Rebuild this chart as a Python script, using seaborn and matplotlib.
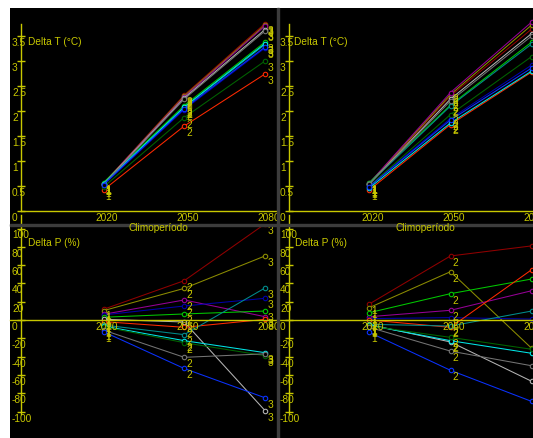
import matplotlib
matplotlib.use("Agg")
import matplotlib.pyplot as plt
from matplotlib.patches import Rectangle
import seaborn as sns
import pandas as pd

# ---------------- data ----------------
years = [2020, 2050, 2080]
period_labels = ["1", "2", "3"]
models = ["maroon", "olive", "purple", "navy", "green", "silver",
          "red", "teal", "cyan", "darkgreen", "gray", "blue"]
model_colors = ["#900000", "#8c8c00", "#960096", "#0000a8", "#00c800", "#b4b4b4",
                "#ff2a00", "#008c8c", "#00e6e6", "#006400", "#747474", "#0a32ff"]

# Delta T (deg C), left panel
t_left_maroon = [0.55, 2.32, 3.75]
t_left_olive = [0.55, 2.30, 3.72]
t_left_purple = [0.55, 2.28, 3.70]
t_left_navy = [0.52, 2.03, 3.26]
t_left_green = [0.57, 2.11, 3.38]
t_left_silver = [0.54, 2.26, 3.63]
t_left_red = [0.42, 1.70, 2.74]
t_left_teal = [0.54, 2.07, 3.33]
t_left_cyan = [0.55, 2.08, 3.35]
t_left_darkgreen = [0.48, 1.87, 3.00]
t_left_gray = [0.53, 2.24, 3.60]
t_left_blue = [0.53, 2.05, 3.28]

# Delta T (deg C), right panel
t_right_maroon = [0.55, 2.30, 3.64]
t_right_olive = [0.55, 2.33, 3.72]
t_right_purple = [0.56, 2.37, 3.78]
t_right_navy = [0.50, 1.85, 2.92]
t_right_green = [0.57, 2.12, 3.38]
t_right_silver = [0.54, 2.24, 3.55]
t_right_red = [0.42, 1.73, 2.78]
t_right_teal = [0.55, 2.10, 3.34]
t_right_cyan = [0.46, 1.76, 2.80]
t_right_darkgreen = [0.50, 1.93, 3.09]
t_right_gray = [0.54, 2.20, 3.50]
t_right_blue = [0.49, 1.82, 2.86]

# Delta P (%), left panel
p_left_maroon = [11.7, 43.0, 105.0]
p_left_olive = [10.2, 34.6, 70.0]
p_left_purple = [6.2, 21.9, 3.6]
p_left_navy = [5.5, 15.3, 23.7]
p_left_green = [3.0, 6.6, 9.8]
p_left_silver = [0.8, -2.2, -99.0]
p_left_red = [-1.8, -8.0, 0.7]
p_left_teal = [-5.5, -16.0, 35.0]
p_left_cyan = [-6.6, -22.6, -35.7]
p_left_darkgreen = [-7.3, -24.8, -39.0]
p_left_gray = [-11.0, -40.8, -37.0]
p_left_blue = [-12.8, -53.0, -85.0]

# Delta P (%), right panel
p_right_maroon = [17.5, 70.0, 81.0]
p_right_olive = [13.5, 52.8, -31.0]
p_right_purple = [3.6, 10.6, 32.0]
p_right_navy = [1.5, 2.6, 1.0]
p_right_green = [8.0, 28.8, 44.8]
p_right_silver = [-5.0, -24.0, -67.0]
p_right_red = [0.0, -8.0, 55.0]
p_right_teal = [-4.7, -6.6, 9.8]
p_right_cyan = [-5.8, -22.6, -36.4]
p_right_darkgreen = [-6.5, -19.0, -32.0]
p_right_gray = [-8.0, -34.0, -50.0]
p_right_blue = [-13.5, -55.0, -89.0]

t_ticks = [0, 0.5, 1, 1.5, 2, 2.5, 3, 3.5]
t_tick_labels = ["0", "0.5", "1", "1.5", "2", "2.5", "3", "3.5"]
p_ticks = [100, 80, 60, 40, 20, 0, -20, -40, -60, -80, -100]
p_tick_labels = ["100", "80", "60", "40", "20", "0", "-20", "-40", "-60", "-80", "-100"]
x_tick_labels = ["2020", "2050", "2080"]
t_title = "Delta T (\u00b0C)"
p_title = "Delta P (%)"
x_title = "Climoper\u00edodo"

# ---------------- build tables ----------------
g = globals()
def table(prefix):
    rows = []
    for m in models:
        vals = g[prefix + m]
        for yr, v, lab in zip(years, vals, period_labels):
            rows.append({"model": m, "year": yr, "value": v, "period": lab})
    return pd.DataFrame(rows)

df_tl = table("t_left_")
df_tr = table("t_right_")
df_bl = table("p_left_")
df_br = table("p_right_")
palette = dict(zip(models, model_colors))

# ---------------- style ----------------
sns.set_theme(style="dark")
plt.rcParams["font.family"] = ["Liberation Sans Narrow", "Liberation Sans", "DejaVu Sans"]
YEL = "#c8c800"
FS = 7.3

W, H = 533, 438
fig = plt.figure(figsize=(W / 100, H / 100), dpi=100, facecolor="white")

def fxy(x, y):
    return x / W, 1 - y / H

def panel(df, box, x2020, x2080, axis_px, y0_px, ppu, ticks, tick_labels,
          spine_lo, spine_hi, xaxis_full, title, title_xy):
    left, right, top, bottom = box
    ax = fig.add_axes([left / W, 1 - bottom / H, (right - left) / W, (bottom - top) / H])
    ax.set_facecolor("black")
    ppy = (x2080 - x2020) / 60.0
    ax.set_xlim(2020 + (left - x2020) / ppy, 2020 + (right - x2020) / ppy)
    ax.set_ylim((y0_px - bottom) / ppu, (y0_px - top) / ppu)
    axis_year = 2020 + (axis_px - x2020) / ppy

    sns.lineplot(data=df, x="year", y="value", hue="model", palette=palette,
                 units="model", estimator=None, sort=False, legend=False, ax=ax,
                 marker="o", markersize=3.2, markerfacecolor="black",
                 markeredgewidth=0.8, linewidth=0.75)
    for ln in ax.lines:
        ln.set_markeredgecolor(ln.get_color())

    ax.grid(False)
    for s in ("top", "right"):
        ax.spines[s].set_visible(False)
    ax.spines["left"].set_position(("data", axis_year))
    ax.spines["left"].set_bounds(spine_lo, spine_hi)
    ax.spines["left"].set_color(YEL)
    ax.spines["left"].set_linewidth(1.0)
    ax.spines["bottom"].set_position(("data", 0))
    xl = ax.get_xlim()
    ax.spines["bottom"].set_bounds(xl[0] if xaxis_full else axis_year, xl[1])
    ax.spines["bottom"].set_color(YEL)
    ax.spines["bottom"].set_linewidth(1.0)
    ax.set_yticks(ticks)
    ax.set_xticks([])
    ax.tick_params(axis="y", direction="inout", length=6, width=1.0, color=YEL,
                   labelleft=False, left=True)
    ax.set_xlabel("")
    ax.set_ylabel("")

    for v, lab in zip(ticks, tick_labels):
        ax.annotate(lab, xy=(axis_year, v), xytext=(-9, -7), textcoords="offset pixels",
                    ha="left", va="center", color=YEL, fontsize=FS, annotation_clip=False)
    for yr, lab in zip(years, x_tick_labels):
        ax.annotate(lab, xy=(yr, 0), xytext=(3.5, -7), textcoords="offset pixels",
                    ha="center", va="center", color=YEL, fontsize=FS, annotation_clip=False)
    for _, r in df.iterrows():
        ax.annotate(r["period"], xy=(r["year"], r["value"]), xytext=(5, -7),
                    textcoords="offset pixels", ha="center", va="center",
                    color=YEL, fontsize=FS, annotation_clip=False)
    fig.text(*fxy(*title_xy), title, ha="left", va="center", color=YEL, fontsize=FS)
    return ax

# top-left
panel(df_tl, (10, 277, 8, 225), 103.5, 265.0, 21, 211, 50.0, t_ticks, t_tick_labels,
      0, 3.75, False, t_title, (28, 42))
# top-right
panel(df_tr, (277, 533, 8, 225), 369.3, 531.7, 289, 211, 50.0, t_ticks, t_tick_labels,
      0, 3.75, False, t_title, (294, 42))
# bottom-left
panel(df_bl, (10, 277, 225, 438), 103.5, 265.0, 21, 320, 0.915, p_ticks, p_tick_labels,
      -103, 115, True, p_title, (28, 243))
# bottom-right
panel(df_br, (277, 533, 225, 438), 369.3, 531.7, 289, 320, 0.915, p_ticks, p_tick_labels,
      -103, 115, True, p_title, (295, 243))

# separators
SEP = "#3c3c3c"
fig.patches.append(Rectangle(fxy(10, 226.5), (533 - 10) / W, 2.5 / H,
                             transform=fig.transFigure, color=SEP, zorder=3))
fig.patches.append(Rectangle(fxy(276.5, 438), 2.5 / W, (438 - 8) / H,
                             transform=fig.transFigure, color=SEP, zorder=3))

for xc in (158, 425):
    fig.text(*fxy(xc, 228), x_title, ha="center", va="center", color=YEL,
             fontsize=FS, zorder=5)

fig.savefig("out.png", dpi=100, facecolor="white")
